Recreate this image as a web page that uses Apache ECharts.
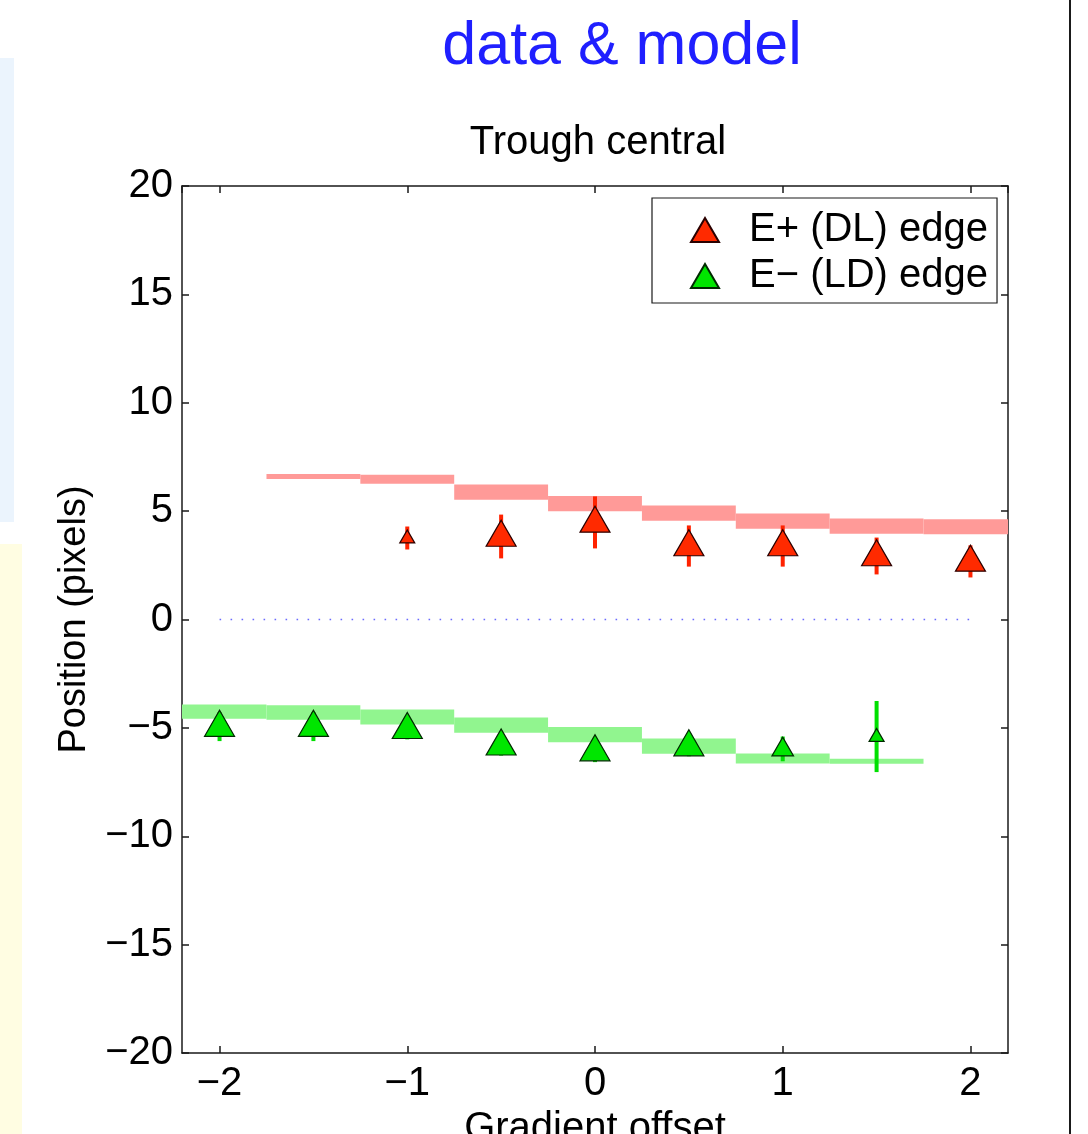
<!DOCTYPE html>
<html>
<head>
<meta charset="utf-8">
<script src="https://cdn.jsdelivr.net/npm/echarts@6/dist/echarts.min.js"></script>
<style>
html,body{margin:0;padding:0;background:#fff;}
#c{width:1088px;height:1134px;}
</style>
</head>
<body>
<div id="c"></div>
<script>
// ---- data ----
const xTicks = [-2, -1, 0, 1, 2];
const yTicks = [-20, -15, -10, -5, 0, 5, 10, 15, 20];

// measured points (E+ edge, red)
const redX   = [-1, -0.5, 0, 0.5, 1, 1.5, 2];
const redY   = [3.76, 3.83, 4.48, 3.39, 3.39, 2.93, 2.68];
const redErr = [0.53, 1.01, 1.20, 0.95, 0.95, 0.85, 0.74];
const redWeight = [0.5, 1, 1, 1, 1, 1, 1];

// measured points (E- edge, green)
const greenX   = [-2, -1.5, -1, -0.5, 0, 0.5, 1, 1.5];
const greenY   = [-4.94, -4.94, -5.04, -5.80, -6.07, -5.84, -5.97, -5.40];
const greenErr = [0.67, 0.67, 0.49, 0.48, 0.51, 0.47, 0.57, 1.64];
const greenWeight = [1, 1, 1, 1, 1, 1, 0.72, 0.5];

// model bands (step, centre +/- half thickness)
const redBandX    = [-1.5, -1, -0.5, 0, 0.5, 1, 1.5, 2];
const redBandMid  = [6.60, 6.47, 5.88, 5.35, 4.91, 4.54, 4.31, 4.28];
const redBandHalf = [0.115, 0.21, 0.35, 0.35, 0.35, 0.35, 0.35, 0.35];

const greenBandX    = [-2, -1.5, -1, -0.5, 0, 0.5, 1, 1.5];
const greenBandMid  = [-4.25, -4.29, -4.50, -4.87, -5.31, -5.84, -6.41, -6.54];
const greenBandHalf = [0.33, 0.33, 0.35, 0.35, 0.35, 0.35, 0.23, 0.11];

const zeroLineX = [-2, 2];

const redName = 'E+ (DL) edge';
const greenName = 'E\u2212 (LD) edge';

// ---- build ----
const FONT = 'Liberation Sans, Arial, Helvetica, sans-serif';
const chart = echarts.init(document.getElementById('c'), null, {renderer: 'canvas'});

function zip(...arrs) { return arrs[0].map((_, i) => arrs.map(a => a[i])); }

function bandRenderer(color) {
  return function (params, api) {
    const x = api.value(0), m = api.value(1), h = api.value(2);
    const p0 = api.coord([x - 0.25, m + h]);
    const p1 = api.coord([x + 0.25, m - h]);
    const cs = params.coordSys;
    const r = echarts.graphic.clipRectByRect(
      {x: p0[0], y: p0[1], width: p1[0] - p0[0], height: p1[1] - p0[1]},
      {x: cs.x, y: cs.y, width: cs.width, height: cs.height});
    if (!r) return;
    return {type: 'rect', shape: r, style: {fill: color}};
  };
}
function errRenderer(color) {
  return function (params, api) {
    const x = api.value(0), y = api.value(1), e = api.value(2);
    const a = api.coord([x, y + e]), b = api.coord([x, y - e]);
    return {type: 'line', shape: {x1: a[0], y1: a[1], x2: b[0], y2: b[1]},
            style: {stroke: color, lineWidth: 4}};
  };
}
function markerData(xs, ys, ws) {
  return xs.map((x, i) => {
    const w = 30 * ws[i], h = 26 * ws[i];
    return {value: [x, ys[i]], symbolSize: [w, h], symbolOffset: [0, -0.125 * h]};
  });
}

const minusFmt = v => {
  if (Math.abs(v - Math.round(v)) > 1e-6) return '';
  return String(Math.round(v)).replace('-', '\u2212');
};

const axisLineStyle = {color: '#1a1a1a', width: 1.5};

const option = {
  backgroundColor: '#ffffff',
  animation: false,
  title: [
    {text: 'data & model', left: 622, top: 17, textAlign: 'center', padding: 0,
     textStyle: {fontFamily: FONT, fontSize: 61, fontWeight: 'normal', color: '#1f1fff'}},
    {text: 'Trough central', left: 598, top: 123, textAlign: 'center', padding: 0,
     textStyle: {fontFamily: FONT, fontSize: 40, fontWeight: 'normal', color: '#000'}}
  ],
  graphic: [
    {type: 'rect', shape: {x: 0, y: 58, width: 14, height: 464}, style: {fill: '#ebf4fd'}, z: -10},
    {type: 'rect', shape: {x: 0, y: 544, width: 22, height: 590}, style: {fill: '#fffde2'}, z: -10},
    {type: 'rect', shape: {x: 1069, y: 0, width: 2, height: 1134}, style: {fill: '#1a1a1a'}, z: -10}
  ],
  grid: {left: 182, top: 186, right: 80, bottom: 81, containLabel: false, outerBoundsMode: 'none'},
  legend: {
    orient: 'vertical', left: 652, top: 198,
    itemWidth: 28, itemHeight: 24, itemGap: 6,
    padding: [12, 9, 7, 38],
    backgroundColor: '#fff', borderColor: '#1a1a1a', borderWidth: 1.2,
    textStyle: {fontFamily: FONT, fontSize: 40, color: '#000', padding: [0, 0, 0, 25], lineHeight: 40},
    data: [{name: redName, icon: 'triangle'}, {name: greenName, icon: 'triangle'}]
  },
  xAxis: [
    {type: 'value', min: -2.2, max: 2.2, position: 'bottom',
     name: 'Gradient offset', nameLocation: 'middle', nameGap: 50,
     nameTextStyle: {fontFamily: FONT, fontSize: 40, color: '#000'},
     axisLine: {show: true, onZero: false, lineStyle: axisLineStyle},
     axisTick: {show: true, inside: true, length: 7, lineStyle: axisLineStyle},
     axisLabel: {formatter: minusFmt, fontFamily: FONT, fontSize: 40, color: '#000', margin: 11,
                 showMinLabel: false, showMaxLabel: false},
     splitLine: {show: false}},
    {type: 'value', min: -2.2, max: 2.2, position: 'top',
     axisLine: {show: true, onZero: false, lineStyle: axisLineStyle},
     axisTick: {show: true, inside: true, length: 7, lineStyle: axisLineStyle},
     axisLabel: {show: false}, splitLine: {show: false}}
  ],
  yAxis: [
    {type: 'value', min: -20, max: 20, interval: 5, position: 'left',
     name: 'Position (pixels)', nameLocation: 'middle', nameGap: 88, nameRotate: 90,
     nameTextStyle: {fontFamily: FONT, fontSize: 38, color: '#000'},
     axisLine: {show: true, onZero: false, lineStyle: axisLineStyle},
     axisTick: {show: true, inside: true, length: 7, lineStyle: axisLineStyle},
     axisLabel: {formatter: minusFmt, fontFamily: FONT, fontSize: 40, color: '#000', margin: 9},
     splitLine: {show: false}},
    {type: 'value', min: -20, max: 20, interval: 5, position: 'right',
     axisLine: {show: true, onZero: false, lineStyle: axisLineStyle},
     axisTick: {show: true, inside: true, length: 7, lineStyle: axisLineStyle},
     axisLabel: {show: false}, splitLine: {show: false}}
  ],
  series: [
    {type: 'custom', name: 'redModel', renderItem: bandRenderer('#ff9a98'),
     data: zip(redBandX, redBandMid, redBandHalf), z: 1, silent: true},
    {type: 'custom', name: 'greenModel', renderItem: bandRenderer('#91f58f'),
     data: zip(greenBandX, greenBandMid, greenBandHalf), z: 1, silent: true},
    {type: 'line', name: 'zero', data: zeroLineX.map(x => [x, 0]), symbol: 'none',
     lineStyle: {type: [1.6, 9.4], color: '#6a6aff', width: 1.6}, z: 2, silent: true},
    {type: 'custom', name: 'redErr', renderItem: errRenderer('#ff2200'),
     data: zip(redX, redY, redErr), z: 3, silent: true},
    {type: 'custom', name: 'greenErr', renderItem: errRenderer('#00e000'),
     data: zip(greenX, greenY, greenErr), z: 3, silent: true},
    {type: 'scatter', name: redName, symbol: 'triangle', data: markerData(redX, redY, redWeight),
     itemStyle: {color: '#ff2a00', borderColor: '#2a0000', borderWidth: 1.2, opacity: 1}, z: 4},
    {type: 'scatter', name: greenName, symbol: 'triangle', data: markerData(greenX, greenY, greenWeight),
     itemStyle: {color: '#00e600', borderColor: '#002a00', borderWidth: 1.2, opacity: 1}, z: 4}
  ]
};
chart.setOption(option);
</script>
</body>
</html>
